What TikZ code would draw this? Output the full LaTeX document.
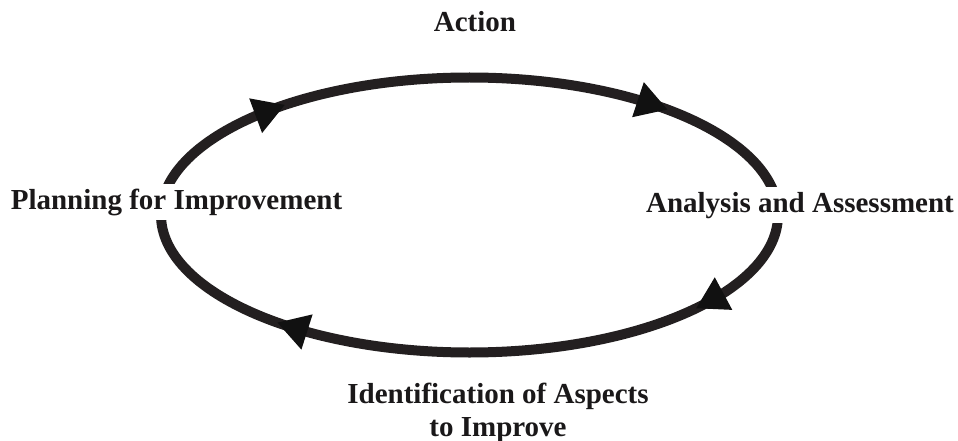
\documentclass[tikz,border=0pt]{standalone}
\usepackage{fontspec}
\setmainfont{Liberation Serif}
\definecolor{ringcol}{RGB}{35,31,32}
\definecolor{tipcol}{RGB}{17,17,17}
\definecolor{txtcol}{RGB}{26,24,25}
\begin{document}
\begin{tikzpicture}[x=1pt,y=-1pt,
  ring/.style={draw=ringcol, line width=10pt},
  txt/.style={font=\fontsize{29}{33}\selectfont\bfseries, text=txtcol, inner sep=2pt},
  cover/.style={txt, fill=white, inner xsep=1pt, inner ysep=5pt},
  tiphead/.style={fill=tipcol}]
\useasboundingbox (0,0) rectangle (958,441);
% the cycle ring
\def\cx{469.5}\def\cy{215}\def\rx{308.5}\def\ry{137.5}
\coordinate (centre) at (\cx,\cy);
\draw[ring] (centre) ellipse [x radius=\rx pt, y radius=\ry pt];
% clockwise arrowheads sitting on the ring
\foreach \t/\n in {126.8/tipA, 50.1/tipB, -42.7/tipC, 231.5/tipD}{
  \pgfmathsetmacro{\dx}{\rx*sin(\t+3)}
  \pgfmathsetmacro{\dy}{\ry*cos(\t+3)}
  \pgfmathsetmacro{\len}{veclen(\dx,\dy)}
  \pgfmathsetmacro{\ux}{\dx/\len}
  \pgfmathsetmacro{\uy}{\dy/\len}
  \coordinate (\n) at ({\cx+\rx*cos(\t)}, {\cy-\ry*sin(\t)});
  \fill[tiphead] (\n) -- ++({-31*\ux-18.5*\uy}, {-31*\uy+18.5*\ux})
                      -- ++({37*\uy}, {-37*\ux}) -- cycle;
}
% stage labels
\node[txt, anchor=base] (action) at (475,31.7) {Action};
\node[cover, anchor=base] (plan) at (176.5,209) {Planning for Improvement};
\node[cover, anchor=base] (assess) at (800,212) {Analysis and Assessment};
\node[txt, anchor=base] (ident) at (498,403) {Identification of Aspects};
\node[txt, anchor=base] (improve) at (498,436) {to Improve};
\end{tikzpicture}
\end{document}
